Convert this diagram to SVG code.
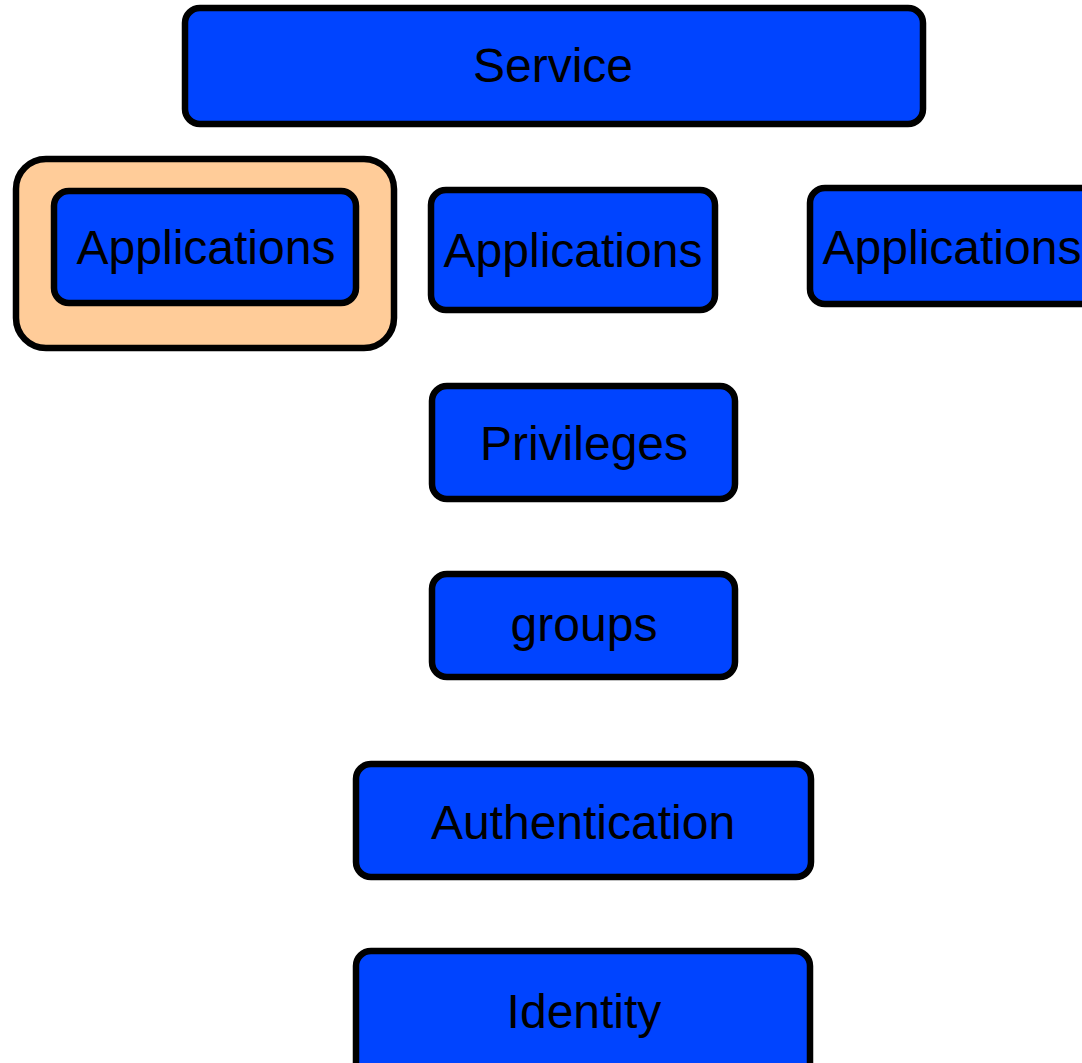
<svg xmlns="http://www.w3.org/2000/svg" width="1082" height="1063" viewBox="0 0 1082 1063">
<style>
.box{fill:#0044ff;stroke:#000;stroke-width:6.5}
.cont{fill:#ffcc99;stroke:#000;stroke-width:6.5}
.lbl{font-family:"Liberation Sans",Arial,sans-serif;font-size:48px;fill:#000;text-anchor:middle}
</style>
<rect width="1082" height="1063" fill="#fff"/>
<g id="connectors"/>
<g id="service"><rect class="box" x="185" y="8" width="738" height="116" rx="15"/><text class="lbl" x="553" y="82">Service</text></g>
<g id="container"><rect class="cont" x="16" y="159" width="378" height="189" rx="30"/></g>
<g id="applications1"><rect class="box" x="54" y="191" width="302" height="112" rx="15"/><text class="lbl" x="206" y="264">Applications</text></g>
<g id="applications2"><rect class="box" x="431" y="190" width="284" height="120" rx="15"/><text class="lbl" x="573" y="267">Applications</text></g>
<g id="applications3"><rect class="box" x="810" y="188" width="290" height="116" rx="15"/><text class="lbl" x="952" y="264">Applications</text></g>
<g id="privileges"><rect class="box" x="432" y="386" width="303" height="113" rx="15"/><text class="lbl" x="584" y="460">Privileges</text></g>
<g id="groups"><rect class="box" x="432" y="574" width="303" height="103" rx="15"/><text class="lbl" x="584" y="641">groups</text></g>
<g id="authentication"><rect class="box" x="356" y="764" width="455" height="113" rx="15"/><text class="lbl" x="583" y="839">Authentication</text></g>
<g id="identity"><rect class="box" x="356" y="951" width="454" height="130" rx="15"/><text class="lbl" x="584" y="1028">Identity</text></g>
</svg>
